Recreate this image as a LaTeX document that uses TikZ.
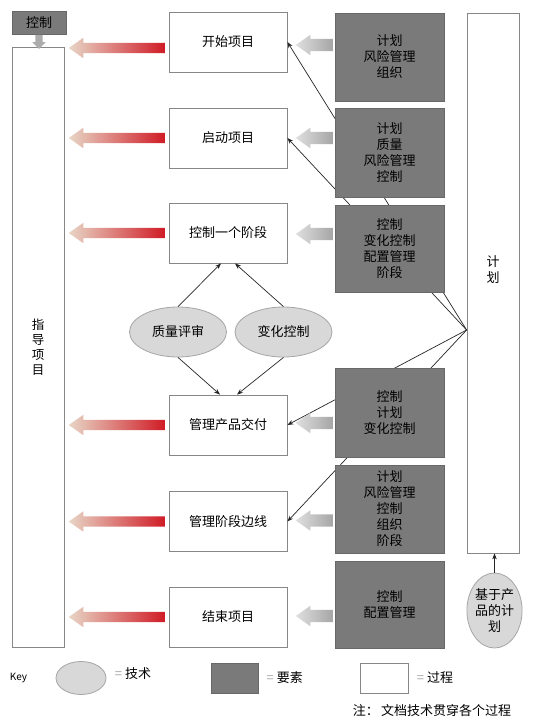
\documentclass[tikz,border=0pt]{standalone}
\usepackage{fontspec}
\setmainfont{Noto Sans CJK SC}
\usetikzlibrary{arrows.meta,positioning,shapes.geometric,shapes.arrows,calc}
\definecolor{elemgray}{RGB}{122,122,122}
\definecolor{techgray}{RGB}{216,216,216}
\definecolor{edgegray}{RGB}{135,135,135}
\definecolor{redtail}{RGB}{208,28,38}
\definecolor{redmid}{RGB}{226,90,95}
\definecolor{redhead}{RGB}{232,214,198}

\begin{document}
\begin{tikzpicture}[
  x=1pt, y=-1pt,
  font=\fontsize{13}{16}\selectfont,
  proc/.style={draw=edgegray, line width=0.8pt, fill=white, minimum width=118pt, minimum height=60pt, inner sep=0pt},
  elem/.style={draw=elemgray!85!black, fill=elemgray, align=center, minimum width=109pt, minimum height=88pt, inner sep=0pt},
  tech/.style={ellipse, draw=gray!70, line width=0.8pt, fill=techgray, align=center, minimum width=97pt, minimum height=50pt, inner sep=0pt},
  tall/.style={draw=edgegray, line width=0.8pt, fill=white, align=center, inner sep=0pt},
  redarr/.style={single arrow, shape border rotate=180, minimum height=96pt, single arrow head extend=5pt, single arrow tip angle=70, inner xsep=0pt, inner ysep=5pt, left color=redhead, middle color=redmid, right color=redtail},
  greyarr/.style={single arrow, shape border rotate=180, minimum height=37pt, single arrow head extend=4pt, single arrow tip angle=70, inner xsep=0pt, inner ysep=6pt, left color=gray!25, right color=gray!70},
  downarr/.style={single arrow, shape border rotate=270, minimum height=14pt, single arrow head extend=3pt, inner xsep=3.5pt, inner ysep=0pt, fill=gray!65},
  link/.style={-{Stealth[length=6pt,width=4.5pt]}, line width=0.7pt, black!85}
]
\useasboundingbox[fill=white] (0,0) rectangle (535,728);

% steering and control
\node[tall, minimum width=52pt, minimum height=600pt, font=\fontsize{12.5}{15}\selectfont] (steer) at (38,347) {指\\导\\项\\目};
\node[elem, minimum width=54pt, minimum height=23pt] (ctrl) at (39,23) {控制};
\node[downarr, anchor=tail] at (ctrl.south) {};

% processes
\node[proc] (start) at (228,42) {开始项目};
\node[proc] (initiate) at (228,138) {启动项目};
\node[proc] (stage) at (228,233) {控制一个阶段};
\node[proc] (deliver) at (228,425) {管理产品交付};
\node[proc] (boundary) at (228,521.5) {管理阶段边线};
\node[proc] (close) at (228,617) {结束项目};

% plans
\node[tall, minimum width=52pt, minimum height=540pt, label={[yshift=13pt, align=center]center:计\\划}] (plan) at (493,283) {};
\node[tech, minimum width=55pt, minimum height=75pt] (pbp) at (494.5,610.5) {基于产\\品的计\\划};
\draw[link] (pbp.north) -- (pbp.north |- plan.south);

\coordinate (fan) at ($(plan.west)+(0,47)$);
\draw[link] (fan) -- (start.east);
\draw[link] (fan) -- (initiate.east);
\draw[link] (fan) -- (deliver.east);
\draw[link] (fan) -- (boundary.east);

% themes
\node[elem] (e1) at (389.5,57) {计划\\风险管理\\组织};
\node[elem, minimum height=89pt] (e2) at (389.5,152.5) {计划\\质量\\风险管理\\控制};
\node[elem, minimum height=87pt] (e3) at (389.5,248.5) {控制\\变化控制\\配置管理\\阶段};
\node[elem, minimum height=89pt] (e4) at (389.5,412.5) {控制\\计划\\变化控制};
\node[elem] (e5) at (389.5,509) {计划\\风险管理\\控制\\组织\\阶段};
\node[elem, minimum height=87pt] (e6) at (389.5,604.5) {控制\\配置管理};

\node[greyarr, anchor=tip] at ($(start.east)+(8,3)$) {};
\node[greyarr, anchor=tip] at ($(initiate.east)+(8,0)$) {};
\node[greyarr, anchor=tip] at ($(stage.east)+(8,1)$) {};
\node[greyarr, anchor=tip] at ($(deliver.east)+(8,-2)$) {};
\node[greyarr, anchor=tip] at ($(boundary.east)+(8,-1)$) {};
\node[greyarr, anchor=tip] at ($(close.east)+(8,-1)$) {};

\node[redarr, anchor=tip] at ($(steer.east |- start.west)+(4,6)$) {};
\node[redarr, anchor=tip] at ($(steer.east |- initiate.west)+(4,0)$) {};
\node[redarr, anchor=tip] at ($(steer.east |- stage.west)+(4,0)$) {};
\node[redarr, anchor=tip] at ($(steer.east |- deliver.west)+(4,0)$) {};
\node[redarr, anchor=tip] at ($(steer.east |- boundary.west)+(4,0)$) {};
\node[redarr, anchor=tip] at ($(steer.east |- close.west)+(4,0)$) {};

% techniques
\node[tech] (review) at (178,332) {质量评审};
\node[tech] (change) at (283.5,332) {变化控制};
\draw[link] (review.north) -- ([xshift=-7pt]stage.south);
\draw[link] (change.north) -- ([xshift=7pt]stage.south);
\draw[link] (review.south) -- ([xshift=-8pt]deliver.north);
\draw[link] (change.south) -- ([xshift=9pt]deliver.north);

% key
\node[font=\fontsize{10}{12}\selectfont] (key) at (18.5,678) {Key};
\node[tech, minimum width=50pt, minimum height=33pt] (keytech) at (81,678) {};
\node[right=5pt of keytech, yshift=4pt] {{\color{gray!70}=} 技术};
\node[elem, minimum width=47pt, minimum height=30pt] (keyelem) at (234.5,678) {};
\node[right=5pt of keyelem] {{\color{gray!70}=} 要素};
\node[proc, minimum width=48pt, minimum height=30pt] (keyproc) at (384,678) {};
\node[right=5pt of keyproc] {{\color{gray!70}=} 过程};
\node (note) at (432,711) {注：\,文档技术贯穿各个过程};
\end{tikzpicture}
\end{document}
